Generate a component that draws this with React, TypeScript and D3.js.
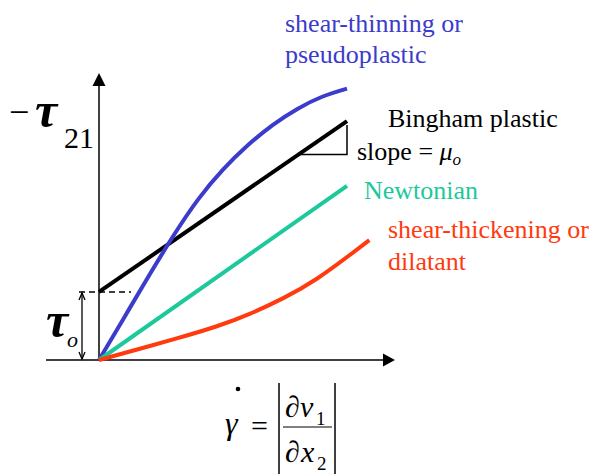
import React from "react";
import * as d3 from "d3";

// Shear rate samples (arbitrary units) and the stress each fluid model gives
const gammaGrid = [0, 1, 2, 3, 4, 5, 6, 7, 8, 9, 10];
const pseudoplasticStress = [0, 1.55, 3.1, 4.6, 5.95, 7.05, 7.95, 8.7, 9.3, 9.75, 10.05];
const dilatantGamma = [0, 2.05, 3.4, 4.75, 6.1, 7.45, 8.8, 10.1, 10.9];
const dilatantStress = [0, 0.52, 0.87, 1.25, 1.72, 2.3, 3.02, 3.88, 4.44];
const newtonianGamma = [0, 10];
const newtonianStress = [0, 6.45];
const binghamGamma = [0, 10];
const binghamYield = 2.52;
const binghamSlope = 0.633;

const labels = {
  thinning: ["shear-thinning or", "pseudoplastic"],
  bingham: "Bingham plastic",
  newtonian: "Newtonian",
  thickening: ["shear-thickening or", "dilatant"],
};

const colors = {
  thinning: "#3b3bcc",
  bingham: "#000000",
  newtonian: "#1cc99b",
  thickening: "#ff3a0f",
};

const W = 599;
const H = 474;
const serif = '"Liberation Serif", "Times New Roman", serif';

export default function App() {
  const x = d3.scaleLinear().domain([0, 10]).range([99, 347]);
  const y = d3.scaleLinear().domain([0, 10]).range([360, 90]);

  const smooth = d3
    .line<[number, number]>()
    .x((d) => x(d[0]))
    .y((d) => y(d[1]))
    .curve(d3.curveNatural);
  const straight = d3
    .line<[number, number]>()
    .x((d) => x(d[0]))
    .y((d) => y(d[1]));

  const thinning = gammaGrid.map((g, i) => [g, pseudoplasticStress[i]] as [number, number]);
  const thickening = dilatantGamma.map((g, i) => [g, dilatantStress[i]] as [number, number]);
  const newtonian = newtonianGamma.map((g, i) => [g, newtonianStress[i]] as [number, number]);
  const bingham = binghamGamma.map((g) => [g, binghamYield + binghamSlope * g] as [number, number]);

  const x0 = x(0);
  const y0 = y(0);
  const yYield = y(binghamYield);
  const bEnd = bingham[bingham.length - 1];
  const triTop = y(bEnd[1]) + 4;
  const triLeftGamma = 8.05;
  const triBase = y(binghamYield + binghamSlope * triLeftGamma);

  const T = (props: any) => <text {...props} style={{ fontFamily: serif }} />;

  return (
    <svg width={W} height={H} style={{ position: "absolute", left: 0, top: 0, background: "#fff" }}>
      <rect width={W} height={H} fill="#fff" />

      {/* axes */}
      <line x1={x0} y1={86} x2={x0} y2={y0} stroke="#000" strokeWidth={1.5} />
      <path d={`M${x0},73 L${x0 - 6.5},86 L${x0 + 6.5},86 Z`} fill="#000" />
      <line x1={46} y1={y0} x2={383} y2={y0} stroke="#000" strokeWidth={1.5} />
      <path d={`M395,${y0} L383,${y0 - 6.5} L383,${y0 + 6.5} Z`} fill="#000" />

      {/* yield stress marker */}
      <line x1={79} y1={yYield} x2={131} y2={yYield} stroke="#000" strokeWidth={1.5} strokeDasharray="6,4" />
      <line x1={82} y1={yYield + 1} x2={82} y2={y0 - 1} stroke="#000" strokeWidth={1.3} />
      <path d={`M79,${yYield + 8} L82,${yYield + 1} L85,${yYield + 8}`} fill="none" stroke="#000" strokeWidth={1.3} />
      <path d={`M79,${y0 - 8} L82,${y0 - 1} L85,${y0 - 8}`} fill="none" stroke="#000" strokeWidth={1.3} />

      {/* slope triangle */}
      <path
        d={`M${x(triLeftGamma)},${triBase} L${x(bEnd[0])},${triBase} L${x(bEnd[0])},${triTop}`}
        fill="none"
        stroke="#000"
        strokeWidth={1.5}
      />

      {/* flow curves */}
      <path d={straight(bingham) ?? ""} fill="none" stroke={colors.bingham} strokeWidth={4} />
      <path d={smooth(thinning) ?? ""} fill="none" stroke={colors.thinning} strokeWidth={4} />
      <path d={straight(newtonian) ?? ""} fill="none" stroke={colors.newtonian} strokeWidth={4} />
      <path d={smooth(thickening) ?? ""} fill="none" stroke={colors.thickening} strokeWidth={4} />

      {/* curve labels */}
      <T x={285} y={32} fontSize={26} fill={colors.thinning}>{labels.thinning[0]}</T>
      <T x={285} y={63} fontSize={26} fill={colors.thinning}>{labels.thinning[1]}</T>
      <T x={388} y={127} fontSize={26} fill="#000">{labels.bingham}</T>
      <T x={357} y={160} fontSize={26} fill="#000">
        slope = <tspan fontStyle="italic">μ</tspan>
        <tspan fontStyle="italic" fontSize={17} dy={5}>o</tspan>
      </T>
      <T x={364} y={199} fontSize={26} fill={colors.newtonian}>{labels.newtonian}</T>
      <T x={388} y={238} fontSize={26} fill={colors.thickening}>{labels.thickening[0]}</T>
      <T x={388} y={270} fontSize={26} fill={colors.thickening}>{labels.thickening[1]}</T>

      {/* y-axis label */}
      <T x={9} y={124} fontSize={36}>−</T>
      <T x={35} y={127} fontSize={50} fontStyle="italic" fontWeight="bold">τ</T>
      <T x={64} y={148} fontSize={30}>21</T>

      {/* yield stress label */}
      <T x={46} y={337} fontSize={50} fontStyle="italic" fontWeight="bold">τ</T>
      <T x={67} y={347} fontSize={22} fontStyle="italic">o</T>

      {/* shear rate label */}
      <T x={225} y={434} fontSize={32} fontStyle="italic">γ</T>
      <circle cx={238} cy={389} r={2.3} fill="#000" />
      <T x={251} y={436} fontSize={30}>=</T>
      <line x1={279} y1={383} x2={279} y2={474} stroke="#000" strokeWidth={1.5} />
      <line x1={335} y1={383} x2={335} y2={474} stroke="#000" strokeWidth={1.5} />
      <line x1={283} y1={427} x2={332} y2={427} stroke="#000" strokeWidth={1.2} />
      <T x={285} y={417} fontSize={30}>∂</T>
      <T x={300} y={417} fontSize={30} fontStyle="italic">v</T>
      <T x={316} y={425} fontSize={19}>1</T>
      <T x={285} y={462} fontSize={30}>∂</T>
      <T x={301} y={462} fontSize={30} fontStyle="italic">x</T>
      <T x={317} y={470} fontSize={19}>2</T>
    </svg>
  );
}
